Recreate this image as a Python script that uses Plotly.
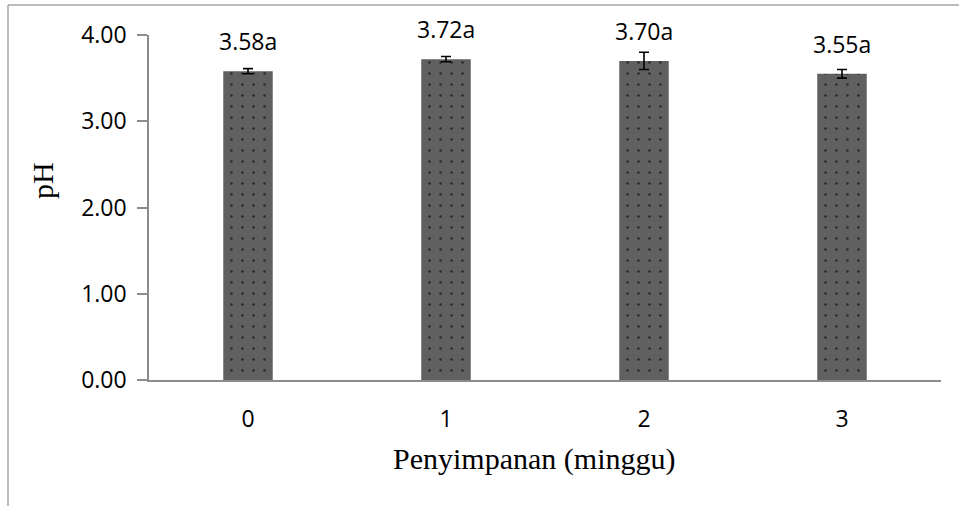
import plotly.graph_objects as go

# pH during storage (weeks)
weeks = ["0", "1", "2", "3"]
ph_mean = [3.58, 3.72, 3.70, 3.55]
ph_err = [0.03, 0.03, 0.10, 0.05]
letters = ["a", "a", "a", "a"]
y_ticks = [0, 1, 2, 3, 4]
y_ticktext = ["0.00", "1.00", "2.00", "3.00", "4.00"]

W, H = 959, 506
ML, MR, MT, MB = 149, 18, 35, 126
pw = W - ML - MR
ph_ = H - MT - MB


def px_x(px):
    return (px - ML) / pw


def px_y(py):
    return (H - MB - py) / ph_


fig = go.Figure()
fig.add_trace(go.Bar(
    x=weeks,
    y=ph_mean,
    width=0.25,
    marker=dict(
        color="#606060",
        line=dict(width=0),
        pattern=dict(shape=".", fgcolor="#262626", bgcolor="#606060",
                     size=11, solidity=0.04, fillmode="replace"),
    ),
    error_y=dict(type="data", array=ph_err, visible=True,
                 color="black", thickness=1.6, width=5),
    hoverinfo="skip",
))

for w, v, lt in zip(weeks, ph_mean, letters):
    fig.add_annotation(
        x=w, y=v, text=f"{v:.2f}{lt}", showarrow=False,
        yanchor="middle", yshift=30,
        font=dict(family="Open Sans", size=23, color="black"),
    )

# outer chart frame (left and top edges)
fig.add_shape(type="line", xref="paper", yref="paper",
              x0=px_x(8), x1=px_x(8), y0=px_y(5), y1=px_y(H),
              line=dict(color="#a6a6a6", width=1.5))
fig.add_shape(type="line", xref="paper", yref="paper",
              x0=px_x(8), x1=px_x(W), y0=px_y(5), y1=px_y(5),
              line=dict(color="#a6a6a6", width=1.5))

# axis titles
fig.add_annotation(
    xref="paper", yref="paper", x=px_x(534), y=px_y(459),
    text="Penyimpanan (minggu)", showarrow=False,
    xanchor="center", yanchor="middle",
    font=dict(family="Liberation Serif", size=30, color="black"),
)
fig.add_annotation(
    xref="paper", yref="paper", x=px_x(42), y=px_y(180),
    text="pH", showarrow=False, textangle=-90,
    xanchor="center", yanchor="middle",
    font=dict(family="Liberation Serif", size=30, color="black"),
)

fig.update_layout(
    width=W, height=H,
    margin=dict(l=ML, r=MR, t=MT, b=MB),
    paper_bgcolor="white", plot_bgcolor="white",
    showlegend=False,
    xaxis=dict(
        type="category",
        range=[-0.5, 3.5],
        showline=True, linecolor="#8c8c8c", linewidth=1.5,
        ticks="", showgrid=False, zeroline=False,
        tickfont=dict(family="Open Sans", size=23, color="black"),
        ticklabelstandoff=18,
    ),
    yaxis=dict(
        range=[0, 4],
        tickvals=y_ticks, ticktext=y_ticktext,
        showline=True, linecolor="#8c8c8c", linewidth=1.5,
        ticks="outside", ticklen=10, tickcolor="#8c8c8c", tickwidth=1.5,
        showgrid=False, zeroline=False,
        tickfont=dict(family="Open Sans", size=23, color="black"),
        ticklabelstandoff=6,
    ),
)

fig.write_html("out.html")
